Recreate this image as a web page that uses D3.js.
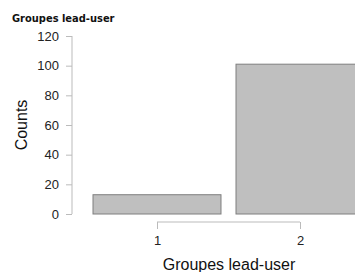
<!DOCTYPE html>
<html>
<head>
<meta charset="utf-8">
<script src="https://cdn.jsdelivr.net/npm/d3@7"></script>
<style>
  body { margin: 0; background: #fff; }
  svg { display: block; }
</style>
</head>
<body>
<div id="chart"></div>
<script>
const groups = [1, 2];
const counts = [13, 101];
const yTicks = [0, 20, 40, 60, 80, 100, 120];

const width = 355, height = 272;

const svg = d3.select("#chart").append("svg")
    .attr("width", width)
    .attr("height", height);

const xScale = d3.scaleLinear().domain([1, 2]).range([157, 300]);
const yScale = d3.scaleLinear().domain([0, 120]).range([214, 36]);
const barWidth = (xScale(2) - xScale(1)) * 0.895;

// title
svg.append("text")
    .attr("x", 12).attr("y", 21.5)
    .attr("font-family", "DejaVu Sans Condensed, DejaVu Sans")
    .attr("font-stretch", "condensed")
    .attr("font-weight", "bold")
    .attr("font-size", 11)
    .attr("fill", "#111")
    .text("Groupes lead-user");

// bars
svg.selectAll("rect.bar")
    .data(groups)
    .enter()
    .append("rect")
    .attr("class", "bar")
    .attr("x", (d) => xScale(d) - barWidth / 2)
    .attr("y", (d, i) => yScale(counts[i]))
    .attr("width", barWidth)
    .attr("height", (d, i) => yScale(0) - yScale(counts[i]))
    .attr("fill", "#bfbfbf")
    .attr("stroke", "#7f7f7f")
    .attr("stroke-width", 1);

// y axis
const yAxis = d3.axisLeft(yScale).tickValues(yTicks).tickSize(6).tickPadding(7);
const yG = svg.append("g")
    .attr("transform", "translate(72,0)")
    .call(yAxis);

// x axis
const xAxis = d3.axisBottom(xScale).tickValues(groups).tickFormat(d3.format("d"))
    .tickSize(7).tickPadding(7);
const xG = svg.append("g")
    .attr("transform", "translate(0,222)")
    .call(xAxis);

[yG, xG].forEach(function(g) {
    g.select(".domain").attr("stroke", "#bbb");
    g.selectAll(".tick line").attr("stroke", "#bbb");
    g.selectAll(".tick text")
        .attr("fill", "#222")
        .attr("font-family", "Liberation Sans")
        .attr("font-size", 13);
});

// plain domain lines without outer ticks
yG.select(".domain").attr("d", `M0,${yScale(120)}V${yScale(0)}`);
xG.select(".domain").attr("d", `M${xScale(1)},0H${xScale(2)}`);

// axis titles
svg.append("text")
    .attr("transform", `translate(27,${(yScale(0) + yScale(120)) / 2}) rotate(-90)`)
    .attr("text-anchor", "middle")
    .attr("font-family", "Liberation Sans")
    .attr("font-size", 16)
    .attr("fill", "#111")
    .text("Counts");

svg.append("text")
    .attr("x", 229).attr("y", 270)
    .attr("text-anchor", "middle")
    .attr("font-family", "Liberation Sans")
    .attr("font-size", 16)
    .attr("fill", "#111")
    .text("Groupes lead-user");
</script>
</body>
</html>
